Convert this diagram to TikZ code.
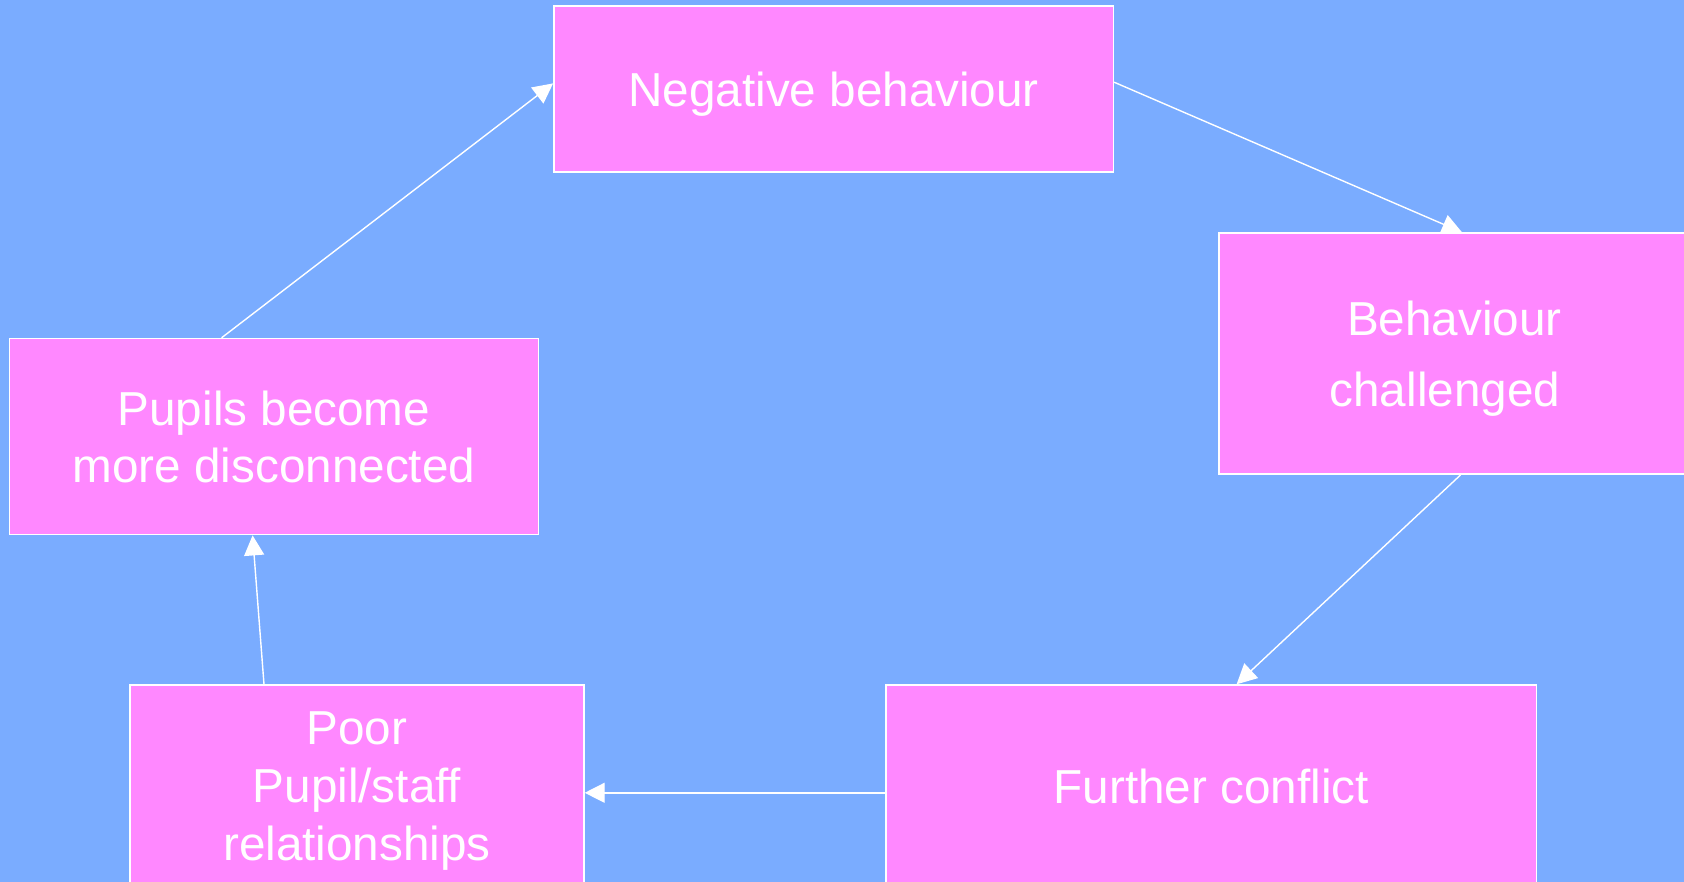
\documentclass[tikz,border=0pt]{standalone}
\usepackage{fontspec}
\setmainfont{Liberation Sans}
\usetikzlibrary{arrows.meta}
\definecolor{bgblue}{RGB}{122,172,255}
\definecolor{boxpink}{RGB}{255,136,255}

\begin{document}
\begin{tikzpicture}[
  cb/.style={rectangle, draw=white, line width=1pt, fill=boxpink, text=white, inner sep=0pt, text depth=0pt, align=center, font=\fontsize{33.9}{41}\selectfont},
  arrow/.style={-{Triangle[length=0.5cm, width=0.5cm]}, draw=white, line width=1pt}
]
% background
\fill[bgblue] (0,0) rectangle (42.1,22.05);
\useasboundingbox (0,0) rectangle (42.1,22.05);

% boxes
\node[cb, minimum width=13.99cm, minimum height=4.15cm] (neg) at (20.84,19.825) {Negative behaviour};
\node[cb, minimum width=11.78cm, minimum height=6.03cm, font=\fontsize{33.9}{50.5}\selectfont] (beh) at (36.36,13.21) {Behaviour\\challenged\hspace*{0.4em}};
\node[cb, minimum width=16.27cm, minimum height=5.05cm] (fur) at (30.28,2.4) {Further conflict};
\node[cb, minimum width=11.35cm, minimum height=5.05cm] (poor) at (8.925,2.4) {Poor\\Pupil/staff\\relationships};
\node[cb, minimum width=13.22cm, minimum height=4.905cm] (pup) at (6.85,11.135) {Pupils become\\more disconnected};

% cycle arrows
\draw[arrow] ([xshift=-1.31cm]pup.north) -- ([yshift=0.14cm]neg.west);
\draw[arrow] ([yshift=0.17cm]neg.east) -- ([xshift=0.19cm]beh.north);
\draw[arrow] ([xshift=0.155cm]beh.south) -- ([xshift=0.635cm]fur.north);
\draw[arrow] ([yshift=-0.17cm]fur.west) -- ([yshift=-0.17cm]poor.east);
\draw[arrow] ([xshift=-2.325cm]poor.north) -- ([xshift=-0.535cm]pup.south);

\end{tikzpicture}
\end{document}
